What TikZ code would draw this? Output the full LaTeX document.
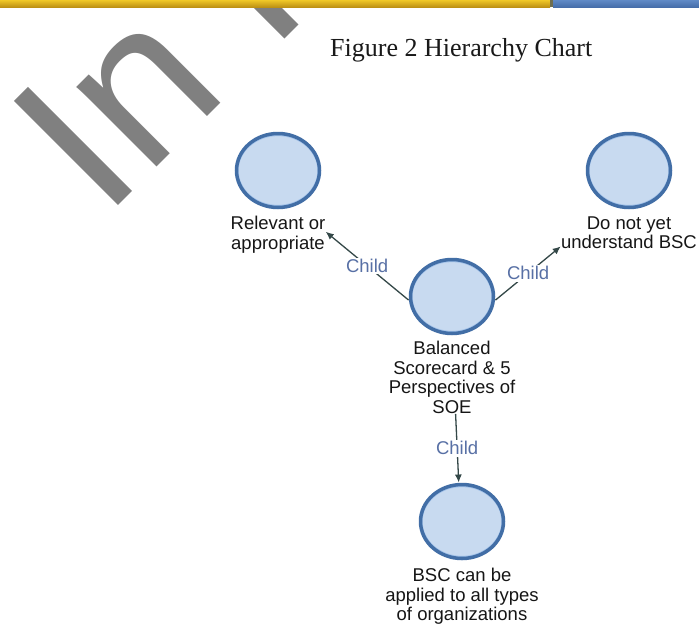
\documentclass[tikz,border=0pt]{standalone}
\usepackage{fontspec}
\setmainfont{Liberation Sans}
\newfontfamily\serifttl{Liberation Serif}
\usetikzlibrary{shapes.geometric,fit,arrows.meta}
\definecolor{wmgray}{RGB}{128,128,128}
\definecolor{barY}{RGB}{240,200,40}
\definecolor{barYd}{RGB}{190,145,20}
\definecolor{barB}{RGB}{96,138,198}
\definecolor{barBd}{RGB}{70,110,170}
\definecolor{barSep}{RGB}{110,110,80}
\definecolor{circfill}{RGB}{200,218,240}
\definecolor{circdraw}{RGB}{66,110,166}
\definecolor{circring}{RGB}{160,192,232}
\definecolor{childblue}{RGB}{88,112,165}
\definecolor{connc}{RGB}{52,72,72}
\definecolor{labtext}{RGB}{22,22,22}
\begin{document}
\begin{tikzpicture}[x=1pt,y=-1pt,
  circ/.style={ellipse, draw=circdraw, fill=circfill, line width=3.5pt,
    minimum width=83pt, minimum height=74pt, inner sep=0pt,
    path picture={\draw[circring, line width=1.6pt]
      (path picture bounding box.center) ellipse [x radius=40.2pt, y radius=35.2pt];}},
  lab/.style={align=center, inner sep=0pt, anchor=north,
    font=\fontsize{18.5}{19.5}\selectfont, text=labtext},
  item/.style={inner sep=0pt, draw=none},
  conn/.style={draw=connc, line width=1.3pt, -{Latex[length=8pt,width=7pt]}},
  childlab/.style={fill=white, inner sep=1.5pt, text=childblue,
    font=\fontsize{18.5}{19.5}\selectfont}
]
\useasboundingbox (0,0) rectangle (699,630);
\fill[white] (0,0) rectangle (699,630);
% watermark
\begin{scope}
\clip (0,7) rectangle (699,630);
\node[anchor=base west, inner sep=0pt, outer sep=0pt, rotate=45, text=wmgray,
  font=\fontsize{214}{214}\selectfont] (wm) at (104.3,219.7) {In Press};
\end{scope}
% top bar
\shade[top color=barY, bottom color=barYd] (0,0) rectangle (550,7);
\fill[barSep] (550,0) rectangle (553,7);
\shade[top color=barB, bottom color=barBd] (553,0) rectangle (699,7);
% title
\node[anchor=base west, inner sep=0pt, text=black!90,
  font=\serifttl\fontsize{26}{30}\selectfont] (title) at (330,56) {Figure 2 Hierarchy Chart};
% nodes
\node[circ] (R) at (278,170.5) {};
\node[lab] (Rl) at ([yshift=-7pt]R.south) {Relevant or\\appropriate};
\node[circ] (D) at (629,170.5) {};
\node[lab] (Dl) at ([yshift=-7pt]D.south) {Do not yet\\understand BSC};
\node[circ] (C) at (452,296.5) {};
\node[lab] (Cl) at ([yshift=-6pt]C.south) {Balanced\\Scorecard \& 5\\Perspectives of\\SOE};
\node[circ] (B) at (462,521.5) {};
\node[lab] (Bl) at ([yshift=-8pt]B.south) {BSC can be\\applied to all types\\of organizations};
% item boxes
\node[item, fit=(R)(Rl)] (Rbox) {};
\node[item, fit=(D)(Dl)] (Dbox) {};
\node[item, fit=(C)(Cl.south)] (Cbox) {};
\node[item, fit=(B)(Bl)] (Bbox) {};
% connectors
\draw[conn] (Cbox) -- node[childlab] {Child} (Rbox);
\draw[conn] (Cbox) -- node[childlab] {Child} (Dbox);
\draw[conn] (Cbox) -- node[childlab] {Child} (Bbox);
\end{tikzpicture}
\end{document}
